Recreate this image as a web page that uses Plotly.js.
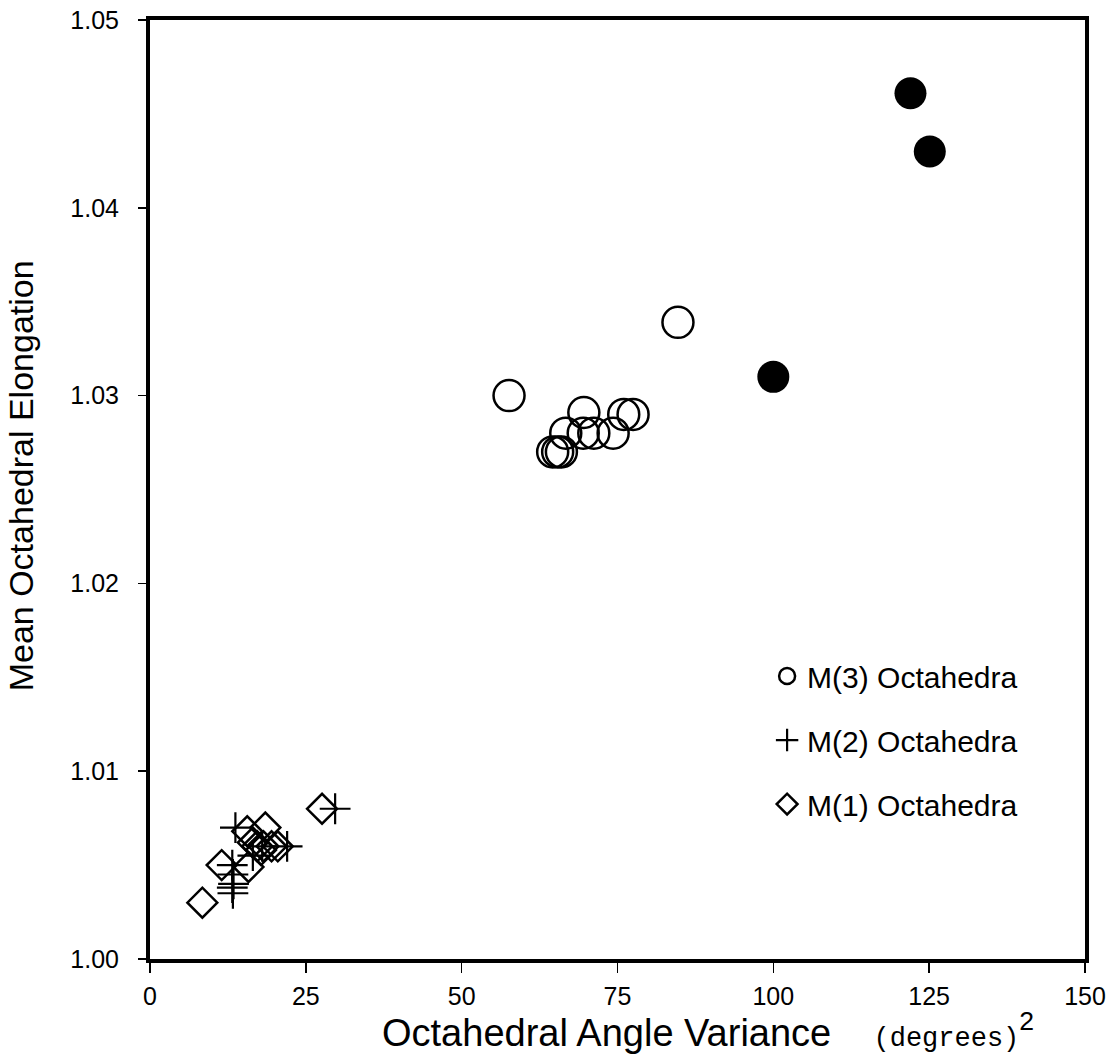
<!DOCTYPE html>
<html>
<head>
<meta charset="utf-8">
<script src="https://cdn.plot.ly/plotly-3.0.1.min.js"></script>
<style>html,body{margin:0;padding:0;background:#fff;}#chart{width:1111px;height:1057px;}</style>
</head>
<body>
<div id="chart"></div>
<script>
// Filled circles (unlabelled series)
const filledX = [122.0, 125.1, 100.0];
const filledY = [1.0461, 1.0430, 1.0310];

// M(3) Octahedra (open circles)
const m3X = [57.6, 84.7, 64.6, 65.4, 66.0, 66.7, 69.6, 69.5, 71.2, 74.3, 76.0, 77.5];
const m3Y = [1.0300, 1.0339, 1.0270, 1.0270, 1.0270, 1.0280, 1.0291, 1.0280, 1.0280, 1.0280, 1.0290, 1.0290];

// M(2) Octahedra (pluses)
const m2X = [29.7, 13.7, 22.0, 13.2, 13.4, 13.3, 13.3, 13.2, 18.0, 16.5];
const m2Y = [1.0080, 1.0070, 1.0060, 1.0050, 1.0040, 1.0035, 1.0045, 1.0038, 1.0060, 1.0055];

// M(1) Octahedra (diamonds)
const m1X = [8.4, 11.5, 15.8, 27.6, 15.6, 18.5, 17.2, 16.5, 18.2, 19.5, 20.5, 17.8];
const m1Y = [1.0030, 1.0050, 1.0049, 1.0080, 1.0068, 1.0070, 1.0060, 1.0062, 1.0060, 1.0060, 1.0060, 1.0058];

// Tick labels
const xTicks = [0, 25, 50, 75, 100, 125, 150];
const yTicks = [1.00, 1.01, 1.02, 1.03, 1.04, 1.05];

const FONT = "Liberation Sans, Arial, sans-serif";

const traces = [
  {x: filledX, y: filledY, mode: 'markers', type: 'scatter', showlegend: false,
   marker: {symbol: 'circle', size: 32, color: '#000', line: {width: 0}}},
  {x: m3X, y: m3Y, mode: 'markers', type: 'scatter', name: 'M(3) Octahedra', legendgroup: 'a',
   marker: {symbol: 'circle-open', size: 31, color: '#000', line: {width: 2.5, color: '#000'}}},
  {x: m2X, y: m2Y, mode: 'markers', type: 'scatter', name: 'M(2) Octahedra', legendgroup: 'b',
   marker: {symbol: 'cross-thin-open', size: 22, color: '#000', line: {width: 2.2, color: '#000'}}},
  {x: m1X, y: m1Y, mode: 'markers', type: 'scatter', name: 'M(1) Octahedra', legendgroup: 'c',
   marker: {symbol: 'diamond-open', size: 23, color: '#000', line: {width: 2.5, color: '#000'}}}
];

const layout = {
  width: 1111, height: 1057,
  margin: {l: 150, r: 26, t: 20, b: 98},
  paper_bgcolor: '#fff', plot_bgcolor: '#fff',
  font: {family: FONT, color: '#000', size: 24},
  xaxis: {
    range: [0, 150], tickvals: xTicks,
    ticks: 'outside', ticklen: 10, tickwidth: 1.5, tickcolor: '#000',
    showline: true, linewidth: 4, linecolor: '#000', mirror: true,
    showgrid: false, zeroline: false,
    tickfont: {family: FONT, size: 25}, ticklabelstandoff: 2
  },
  yaxis: {
    range: [1.0, 1.05], tickvals: yTicks, tickformat: '.2f',
    ticks: 'outside', ticklen: 8, tickwidth: 1.5, tickcolor: '#000',
    showline: true, linewidth: 4, linecolor: '#000', mirror: true,
    showgrid: false, zeroline: false,
    tickfont: {family: FONT, size: 25}, ticklabelstandoff: 14
  },
  legend: {
    x: 0.66, y: 0.329, xanchor: 'left', yanchor: 'top',
    bgcolor: 'rgba(0,0,0,0)', borderwidth: 0,
    font: {family: FONT, size: 30, color: '#000'},
    tracegroupgap: 22, traceorder: 'grouped', itemsizing: 'trace'
  },
  annotations: [
    {
      xref: 'paper', yref: 'paper', x: 0.246, y: -0.076, xanchor: 'left', yanchor: 'middle',
      showarrow: false,
      text: 'Octahedral Angle Variance&nbsp;&nbsp;&nbsp;&nbsp;<span style="font-family:Liberation Mono;font-size:27px">(degrees)</span><sup>2</sup>',
      font: {family: FONT, size: 38, color: '#000'}
    },
    {
      xref: 'paper', yref: 'paper', x: -0.137, y: 0.515, xanchor: 'center', yanchor: 'middle',
      showarrow: false, textangle: -90,
      text: 'Mean Octahedral Elongation',
      font: {family: FONT, size: 34, color: '#000'}
    }
  ]
};

Plotly.newPlot('chart', traces, layout, {displayModeBar: false, staticPlot: true});
</script>
</body>
</html>
